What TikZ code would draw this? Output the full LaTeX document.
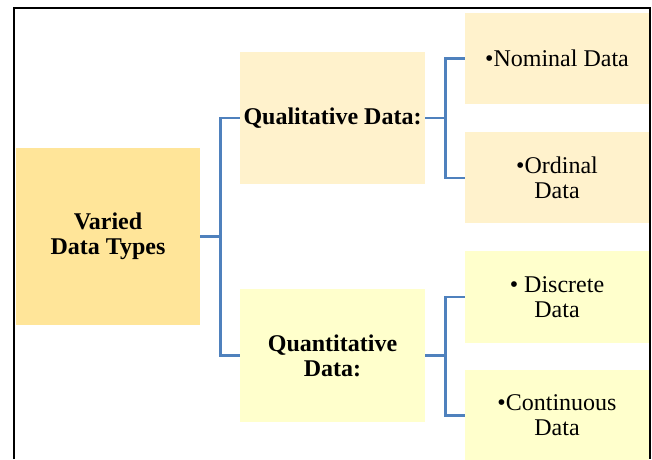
\documentclass[tikz,border=0pt]{standalone}
\usepackage{fontspec}
\setmainfont{Liberation Serif}
\usepackage{xcolor}
\usepackage{tikz}
\usetikzlibrary{positioning}
\usetikzlibrary{calc}

\definecolor{rootfill}{HTML}{FFE599}
\definecolor{qualfill}{HTML}{FFF2CC}
\definecolor{quantfill}{HTML}{FFFFCC}
\definecolor{linkblue}{HTML}{4F81BD}

\begin{document}
\begin{tikzpicture}[x=1pt, y=-1pt,
    box/.style={rectangle, align=center, inner sep=0pt, minimum width=184pt,
                font=\fontsize{24}{25}\selectfont},
    headbox/.style={box, font=\fontsize{24}{25}\selectfont\bfseries},
    link/.style={draw=linkblue, line width=2.6pt}]
  %\draw [help lines, dotted] (0,0) grid[step=20] (652,459);

  \useasboundingbox (0,0) rectangle (652,459);
  \draw[line width=2.2pt] (14,459) -- (14,8) -- (650,8) -- (650,459);

  \node(Root)  [headbox, fill=rootfill, minimum height=177pt] at (108,236.5) {Varied\\Data Types};
  \node(Qual)  [headbox, fill=qualfill, minimum width=185pt, minimum height=132pt] at (332.5,118) {Qualitative Data:};
  \node(Quant) [headbox, fill=quantfill, minimum width=185pt, minimum height=133pt] at (332.5,355.5) {Quantitative\\Data:};

  \node(Nominal)    [box, fill=qualfill, minimum height=91pt] at (557,58.5) {\textbullet Nominal Data};
  \node(Ordinal)    [box, fill=qualfill, minimum height=91pt, below=28pt of Nominal] {\textbullet Ordinal\\Data};
  \node(Discrete)   [box, fill=quantfill, minimum height=92pt, below=27pt of Ordinal] {\textbullet{} Discrete\\Data};
  \node(Continuous) [box, fill=quantfill, minimum height=90pt, below=27pt of Discrete] {\textbullet Continuous\\Data};

  \foreach \p/\a/\b in {Root/Qual/Quant, Qual/Nominal/Ordinal, Quant/Discrete/Continuous} {
    \coordinate (\p-fork) at ([xshift=20pt] \p.east);
    \draw[link] (\p.east) -- (\p-fork);
    \draw[link] (\a.west) -| (\p-fork) |- (\b.west);
  }

\end{tikzpicture}
\end{document}
